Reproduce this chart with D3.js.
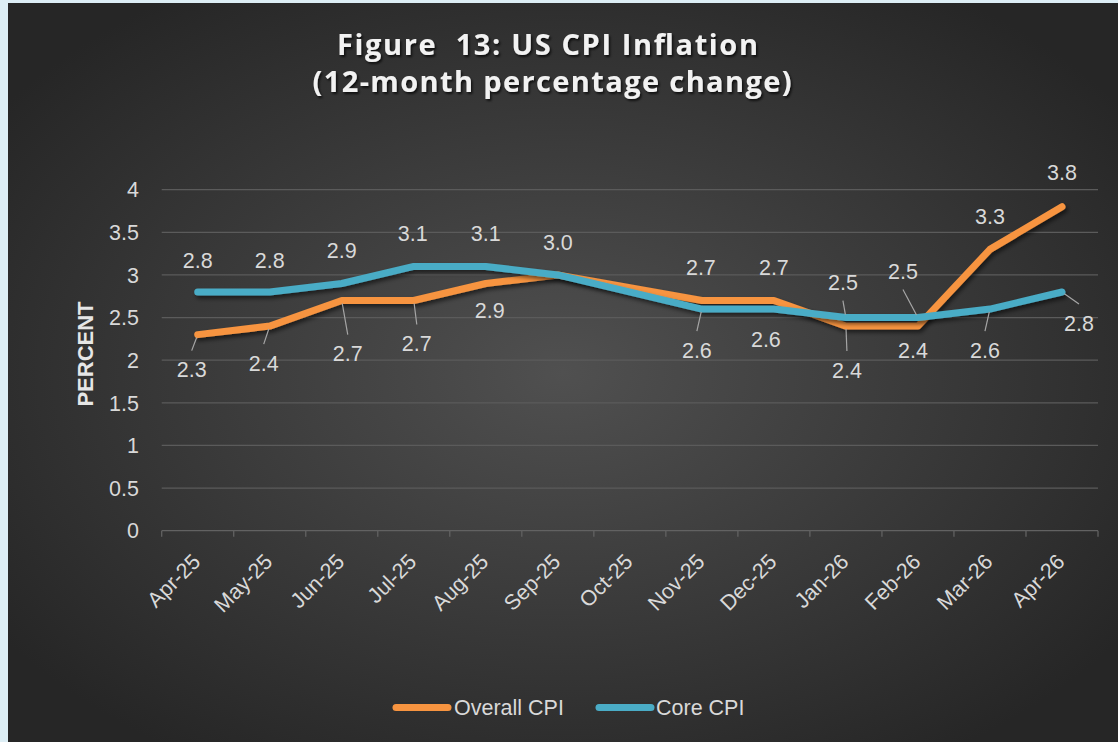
<!DOCTYPE html>
<html>
<head>
<meta charset="utf-8">
<script src="https://cdn.jsdelivr.net/npm/d3@7"></script>
<style>
  html, body { margin: 0; padding: 0; background: #ddeef5; }
  svg { display: block; }
</style>
</head>
<body>
<svg id="chart" width="1118" height="742"></svg>
<script>
// ---------- data ----------
const months = ["Apr-25","May-25","Jun-25","Jul-25","Aug-25","Sep-25","Oct-25","Nov-25","Dec-25","Jan-26","Feb-26","Mar-26","Apr-26"];
const overallCPI = [2.3, 2.4, 2.7, 2.7, 2.9, 3.0, null, 2.7, 2.7, 2.4, 2.4, 3.3, 3.8];
const coreCPI    = [2.8, 2.8, 2.9, 3.1, 3.1, 3.0, null, 2.6, 2.6, 2.5, 2.5, 2.6, 2.8];
const yTicks = [0, 0.5, 1, 1.5, 2, 2.5, 3, 3.5, 4];
const seriesNames = ["Overall CPI", "Core CPI"];
const titleLines = ["Figure  13: US CPI Inflation", "(12-month percentage change)"];
const yTitle = "PERCENT";

// ---------- label layout (offsets in px from the point; null = no label; leader flag) ----------
const overallLabelLayout = [[-6,35,1],[-6,37,1],[6,53,1],[3,43,1],[4,27,0],null,null,[-1,-33,0],[0,-33,0],[1,44,1],[-5,24,0],[0,-33,0],[0,-34,0]];
const coreLabelLayout    = [[0,-32,0],[0,-32,0],[0,-33,0],[-1,-33,0],[0,-33,0],[0,-33,0],null,[-5,41,1],[-8,30,0],[-3,-35,1],[-15,-46,1],[-5,41,1],[17,31,1]];

const colors = { overall: "#f79440", core: "#4aacc6" };

const svg = d3.select("#chart");
const W = 1118, H = 742;
const defs = svg.append("defs");

const grad = defs.append("radialGradient").attr("id", "bg")
  .attr("cx", "50%").attr("cy", "50%").attr("r", "62%");
grad.append("stop").attr("offset", "0%").attr("stop-color", "#505050");
grad.append("stop").attr("offset", "100%").attr("stop-color", "#262626");

const sh = defs.append("filter").attr("id", "lineShadow")
  .attr("x", "-10%").attr("y", "-30%").attr("width", "120%").attr("height", "160%");
sh.append("feDropShadow").attr("dx", 2).attr("dy", 3).attr("stdDeviation", 2)
  .attr("flood-color", "#000").attr("flood-opacity", 0.55);

const tsh = defs.append("filter").attr("id", "titleShadow")
  .attr("x", "-5%").attr("y", "-30%").attr("width", "110%").attr("height", "160%");
tsh.append("feDropShadow").attr("dx", 1.5).attr("dy", 2).attr("stdDeviation", 1.2)
  .attr("flood-color", "#000").attr("flood-opacity", 0.7);

// chart area background
svg.append("rect").attr("x", 8).attr("y", 3).attr("width", W - 8).attr("height", H - 3)
  .attr("fill", "url(#bg)");

// ---------- scales ----------
const plot = { left: 161.7, right: 1098, top: 189.7, bottom: 530.7 };
const x = d3.scaleBand().domain(months).range([plot.left, plot.right]).paddingInner(0).paddingOuter(0);
const y = d3.scaleLinear().domain([0, 4]).range([plot.bottom, plot.top]);
const cx = m => x(m) + x.bandwidth() / 2;

const font = "'Liberation Sans', Arial, sans-serif";
const fs = 21.5;
const textColor = "#d9d9d9";

// gridlines
svg.append("g").selectAll("line").data(yTicks.filter(t => t > 0)).join("line")
  .attr("x1", plot.left).attr("x2", plot.right)
  .attr("y1", d => y(d)).attr("y2", d => y(d))
  .attr("stroke", "#5b5b5b").attr("stroke-width", 1.3);

// y tick labels
svg.append("g").selectAll("text").data(yTicks).join("text")
  .attr("x", 139).attr("y", d => y(d)).attr("dy", "0.36em")
  .attr("text-anchor", "end")
  .attr("font-family", font).attr("font-size", fs).attr("fill", textColor)
  .text(d => d3.format("")(d));

// x axis line + boundary ticks
svg.append("line").attr("x1", plot.left).attr("x2", plot.right)
  .attr("y1", plot.bottom).attr("y2", plot.bottom)
  .attr("stroke", "#626262").attr("stroke-width", 1.3);
const bounds = months.map(m => x(m)).concat([plot.right]);
svg.append("g").selectAll("line").data(bounds).join("line")
  .attr("x1", d => d).attr("x2", d => d)
  .attr("y1", plot.bottom).attr("y2", plot.bottom + 6)
  .attr("stroke", "#626262").attr("stroke-width", 1.3);

// x tick labels rotated
svg.append("g").selectAll("text").data(months).join("text")
  .attr("transform", d => `translate(${cx(d) + 4},${563}) rotate(-45)`)
  .attr("text-anchor", "end")
  .attr("font-family", font).attr("font-size", fs).attr("fill", textColor)
  .text(d => d);

// y title
svg.append("text")
  .attr("transform", `translate(93,354) rotate(-90)`)
  .attr("text-anchor", "middle")
  .attr("font-family", font).attr("font-size", 22).attr("font-weight", "bold")
  .attr("fill", "#e6e6e6")
  .text(yTitle);

// title
const titleG = svg.append("g").attr("filter", "url(#titleShadow)");
const titleWidths = [421, 479];
const titleCenters = [547.5, 552];
const titleBaselines = [55, 92];
titleLines.forEach((t, i) => {
  titleG.append("text")
    .attr("x", titleCenters[i] - titleWidths[i] / 2).attr("y", titleBaselines[i])
    .attr("textLength", titleWidths[i]).attr("lengthAdjust", "spacing")
    .attr("font-family", "'Open Sans', 'Liberation Sans', sans-serif")
    .attr("font-size", 29).attr("font-weight", "bold")
    .attr("fill", "#f2f2f2")
    .attr("xml:space", "preserve")
    .text(t);
});

// ---------- series ----------
const series = [
  { name: seriesNames[0], values: overallCPI, color: colors.overall, layout: overallLabelLayout },
  { name: seriesNames[1], values: coreCPI, color: colors.core, layout: coreLabelLayout }
];

const line = d3.line().x(d => cx(d.m)).y(d => y(d.v));
series.forEach(s => {
  const pts = months.map((m, i) => ({ m, v: s.values[i] })).filter(d => d.v !== null);
  svg.append("path").datum(pts)
    .attr("d", line)
    .attr("fill", "none").attr("stroke", s.color).attr("stroke-width", 7)
    .attr("stroke-linejoin", "round").attr("stroke-linecap", "round")
    .attr("filter", "url(#lineShadow)");
});

// labels + leader lines
const labG = svg.append("g");
series.forEach(s => {
  months.forEach((m, i) => {
    const v = s.values[i];
    const L = s.layout[i];
    if (v === null || !L) return;
    const px = cx(m), py = y(v);
    const lx = px + L[0], ly = py + L[1];
    if (L[2]) {
      const ey = ly + (L[1] > 0 ? -19 : 18);
      const dx = lx - px, dy = ey - py, len = Math.hypot(dx, dy);
      labG.append("line")
        .attr("x1", px + dx / len * 3).attr("y1", py + dy / len * 3)
        .attr("x2", lx).attr("y2", ey)
        .attr("stroke", "#a6a6a6").attr("stroke-width", 1.2);
    }
    labG.append("text")
      .attr("x", lx).attr("y", ly).attr("dy", "0.36em")
      .attr("text-anchor", "middle")
      .attr("font-family", font).attr("font-size", fs).attr("fill", textColor)
      .text(d3.format(".1f")(v));
  });
});

// legend
const legendItems = [
  { name: seriesNames[0], color: colors.overall, x1: 396, x2: 448, tx: 454 },
  { name: seriesNames[1], color: colors.core, x1: 599, x2: 651, tx: 656 }
];
const lg = svg.append("g");
legendItems.forEach(it => {
  lg.append("line").attr("x1", it.x1).attr("x2", it.x2).attr("y1", 707.5).attr("y2", 707.5)
    .attr("stroke", it.color).attr("stroke-width", 7).attr("stroke-linecap", "round");
  lg.append("text").attr("x", it.tx).attr("y", 707.5).attr("dy", "0.36em")
    .attr("font-family", font).attr("font-size", fs).attr("fill", textColor)
    .text(it.name);
});
</script>
</body>
</html>
